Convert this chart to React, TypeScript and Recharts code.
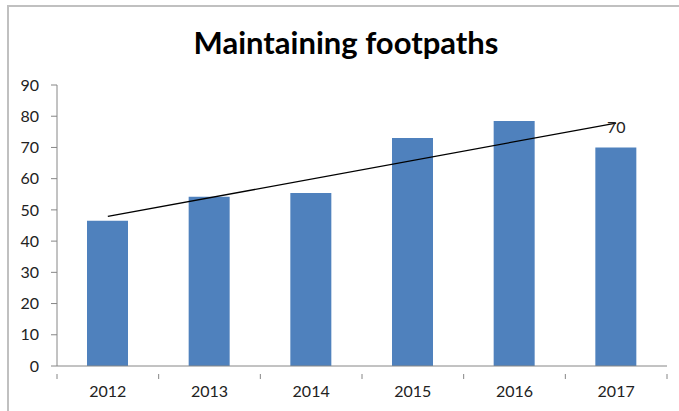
import { Bar, BarChart, ReferenceDot, ReferenceLine, XAxis, YAxis } from 'recharts'

const years = ['2012', '2013', '2014', '2015', '2016', '2017']
const values = [46.5, 54.2, 55.4, 73, 78.5, 70]
const yTicks = [0, 10, 20, 30, 40, 50, 60, 70, 80, 90]
// linear trendline end points
const trendStart = 47.9
const trendEnd = 77.8
const labelText = '70'
const labelAt = 76.3

const data = years.map((year, i) => ({ year, value: values[i] }))

const font = 'Lato, "Open Sans", sans-serif'
const axisColor = '#868686'
const bandWidth = 610 / years.length

function YearTick(props: any) {
  const { x, y, payload, index } = props
  const isLast = index === years.length - 1
  return (
    <g>
      <line x1={x - bandWidth / 2} y1={y} x2={x - bandWidth / 2} y2={y + 5} stroke={axisColor} />
      {isLast && <line x1={x + bandWidth / 2} y1={y} x2={x + bandWidth / 2} y2={y + 5} stroke={axisColor} />}
      <text x={x} y={y + 23} textAnchor="middle" fontSize={16} fill="#222" fontFamily={font}>
        {payload.value}
      </text>
    </g>
  )
}

export default function App() {
  return (
    <div style={{ position: 'absolute', left: 0, top: 0, width: 679, height: 411, background: '#fff', overflow: 'hidden' }}>
      <div style={{ position: 'absolute', left: 7, top: 5, width: 700, height: 430, border: '2px solid #c0c0c0', boxSizing: 'border-box' }} />
      <div style={{ position: 'absolute', left: 0, top: 23, width: 692, textAlign: 'center', fontFamily: font, fontWeight: 700, fontSize: 31, color: '#000' }}>
        Maintaining footpaths
      </div>
      <BarChart width={679} height={411} data={data} margin={{ top: 85, right: 12, bottom: 15, left: 0 }} style={{ position: 'absolute', left: 0, top: 0 }}>
        <YAxis
          domain={[0, 90]}
          ticks={yTicks}
          width={57}
          interval={0}
          tickSize={6}
          tickMargin={12}
          axisLine={{ stroke: axisColor }}
          tickLine={{ stroke: axisColor }}
          tick={{ fontSize: 16, fill: '#222', fontFamily: font }}
        />
        <XAxis dataKey="year" height={30} interval={0} axisLine={{ stroke: axisColor }} tickLine={false} tick={<YearTick />} />
        <Bar dataKey="value" fill="#4F81BD" barSize={41} isAnimationActive={false} />
        <ReferenceLine
          segment={[{ x: years[0], y: trendStart }, { x: years[years.length - 1], y: trendEnd }]}
          stroke="#000"
          strokeWidth={1.3}
        />
        <ReferenceDot
          x={years[years.length - 1]}
          y={labelAt}
          r={0}
          fill="none"
          stroke="none"
          label={{ value: labelText, position: 'center', fontSize: 16, fill: '#222', fontFamily: font }}
        />
      </BarChart>
    </div>
  )
}
